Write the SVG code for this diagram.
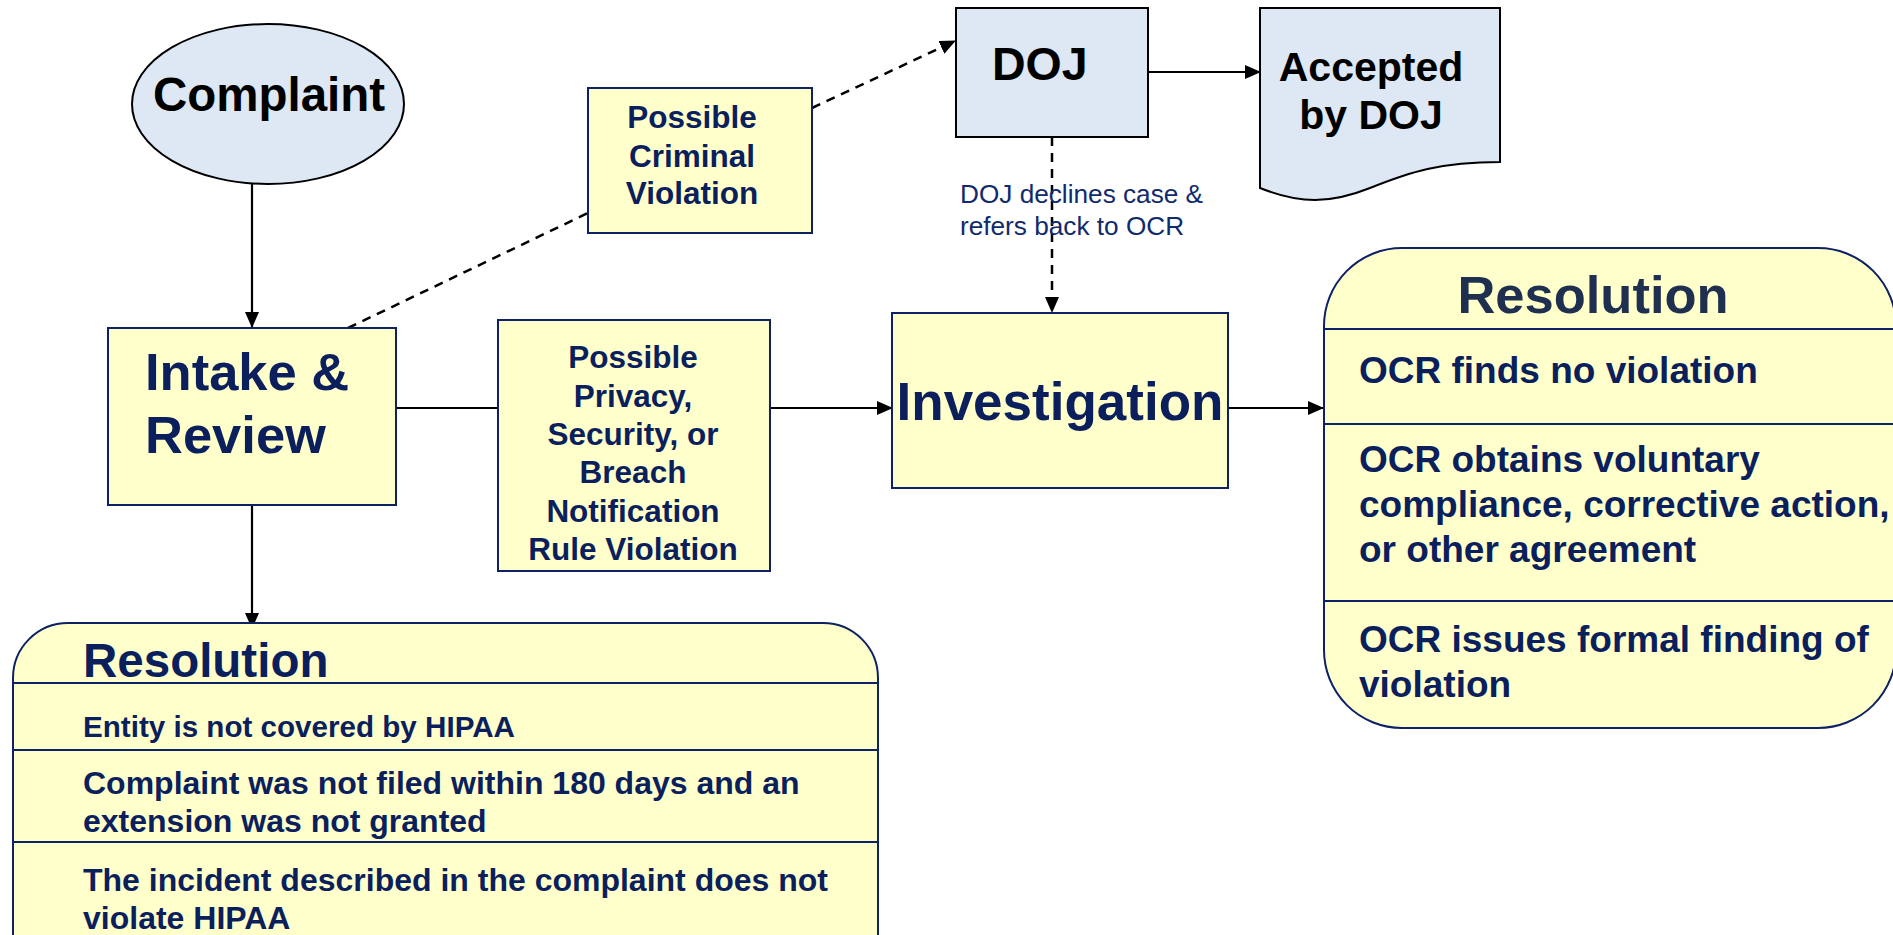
<svg xmlns="http://www.w3.org/2000/svg" width="1893" height="935" viewBox="0 0 1893 935">
<defs>
<style>
.yb{fill:#ffffcc;stroke:#0d2265;stroke-width:2}
.bb{fill:#dde8f4;stroke:#000;stroke-width:2}
.t{font-family:"Liberation Sans",Arial,sans-serif;font-weight:bold;fill:#0a1f5c}
.k{font-family:"Liberation Sans",Arial,sans-serif;font-weight:bold;fill:#000}
.ln{stroke:#000;stroke-width:2.2;fill:none}
.dl{stroke:#000;stroke-width:2.5;fill:none;stroke-dasharray:9 7}
.dv{stroke:#0d2265;stroke-width:2}
</style>
<marker id="ah" markerWidth="16" markerHeight="14" refX="15" refY="7" orient="auto" markerUnits="userSpaceOnUse">
<path d="M0,0 L16,7 L0,14 Z" fill="#000"/>
</marker>
</defs>
<rect width="1893" height="935" fill="#fff"/>

<g id="connectors">
<line class="ln" x1="252" y1="184" x2="252" y2="327" marker-end="url(#ah)"/>
<line class="ln" x1="252" y1="505" x2="252" y2="628" marker-end="url(#ah)"/>
<line class="ln" x1="396" y1="408" x2="498" y2="408"/>
<line class="ln" x1="770" y1="408" x2="892" y2="408" marker-end="url(#ah)"/>
<line class="ln" x1="1228" y1="408" x2="1323" y2="408" marker-end="url(#ah)"/>
<line class="ln" x1="1148" y1="72" x2="1260" y2="72" marker-end="url(#ah)"/>
<line class="dl" x1="348" y1="328" x2="588" y2="213"/>
<line class="dl" x1="812" y1="108" x2="955" y2="41" marker-end="url(#ah)"/>
<line class="dl" x1="1052" y1="137" x2="1052" y2="312" marker-end="url(#ah)"/>
<text font-family="Liberation Sans, Arial, sans-serif" font-size="26.2" fill="#102a6e"><tspan x="960" y="203">DOJ declines case &amp;</tspan><tspan x="960" y="235">refers back to OCR</tspan></text>
</g>

<g id="complaint">
<ellipse cx="268" cy="104" rx="136" ry="80" class="bb"/>
<text class="k" x="269" y="111" font-size="47.5" text-anchor="middle">Complaint</text>
</g>

<g id="intake">
<rect x="108" y="328" width="288" height="177" class="yb"/>
<text class="t" font-size="52.5"><tspan x="145" y="390">Intake &amp;</tspan><tspan x="145" y="453">Review</tspan></text>
</g>

<g id="criminal">
<rect x="588" y="88" width="224" height="145" class="yb"/>
<text class="t" font-size="31.5" text-anchor="middle"><tspan x="692" y="128">Possible</tspan><tspan x="692" y="167">Criminal</tspan><tspan x="692" y="204">Violation</tspan></text>
</g>

<g id="privacy">
<rect x="498" y="320" width="272" height="251" class="yb"/>
<text class="t" font-size="31.5" text-anchor="middle"><tspan x="633" y="368">Possible</tspan><tspan x="633" y="407">Privacy,</tspan><tspan x="633" y="445">Security, or</tspan><tspan x="633" y="483">Breach</tspan><tspan x="633" y="522">Notification</tspan><tspan x="633" y="560">Rule Violation</tspan></text>
</g>

<g id="investigation">
<rect x="892" y="313" width="336" height="175" class="yb"/>
<text class="t" x="1060" y="420" font-size="53" text-anchor="middle">Investigation</text>
</g>

<g id="doj">
<rect x="956" y="8" width="192" height="129" class="bb"/>
<text class="k" x="992" y="80" font-size="46.5">DOJ</text>
</g>

<g id="accepted">
<path d="M1260,8 H1500 V162 C1440,162 1410,172 1370,188 C1330,204 1300,204 1260,188 Z" class="bb"/>
<text class="k" font-size="41" text-anchor="middle"><tspan x="1371" y="81">Accepted</tspan><tspan x="1371" y="129">by DOJ</tspan></text>
</g>

<g id="resolution-left">
<rect x="13" y="623" width="865" height="380" rx="55" ry="55" class="yb"/>
<line class="dv" x1="13" y1="683" x2="878" y2="683"/>
<line class="dv" x1="13" y1="750" x2="878" y2="750"/>
<line class="dv" x1="13" y1="842" x2="878" y2="842"/>
<text class="t" x="83" y="677" font-size="47.5">Resolution</text>
<text class="t" x="83" y="737" font-size="29.6">Entity is not covered by HIPAA</text>
<text class="t" font-size="32"><tspan x="83" y="794">Complaint was not filed within 180 days and an</tspan><tspan x="83" y="832">extension was not granted</tspan></text>
<text class="t" font-size="32"><tspan x="83" y="891">The incident described in the complaint does not</tspan><tspan x="83" y="929">violate HIPAA</tspan></text>
</g>

<g id="resolution-right">
<rect x="1324" y="248" width="572" height="480" rx="78" ry="78" class="yb"/>
<line class="dv" x1="1324" y1="329" x2="1896" y2="329"/>
<line class="dv" x1="1324" y1="424" x2="1896" y2="424"/>
<line class="dv" x1="1324" y1="601" x2="1896" y2="601"/>
<text x="1593" y="313" font-size="52.5" text-anchor="middle" font-family="Liberation Sans, Arial, sans-serif" font-weight="bold" fill="#1f2f4f">Resolution</text>
<text class="t" x="1359" y="383" font-size="37">OCR finds no violation</text>
<text class="t" font-size="37"><tspan x="1359" y="472">OCR obtains voluntary</tspan><tspan x="1359" y="517">compliance, corrective action,</tspan><tspan x="1359" y="562">or other agreement</tspan></text>
<text class="t" font-size="37"><tspan x="1359" y="652">OCR issues formal finding of</tspan><tspan x="1359" y="697">violation</tspan></text>
</g>
</svg>
